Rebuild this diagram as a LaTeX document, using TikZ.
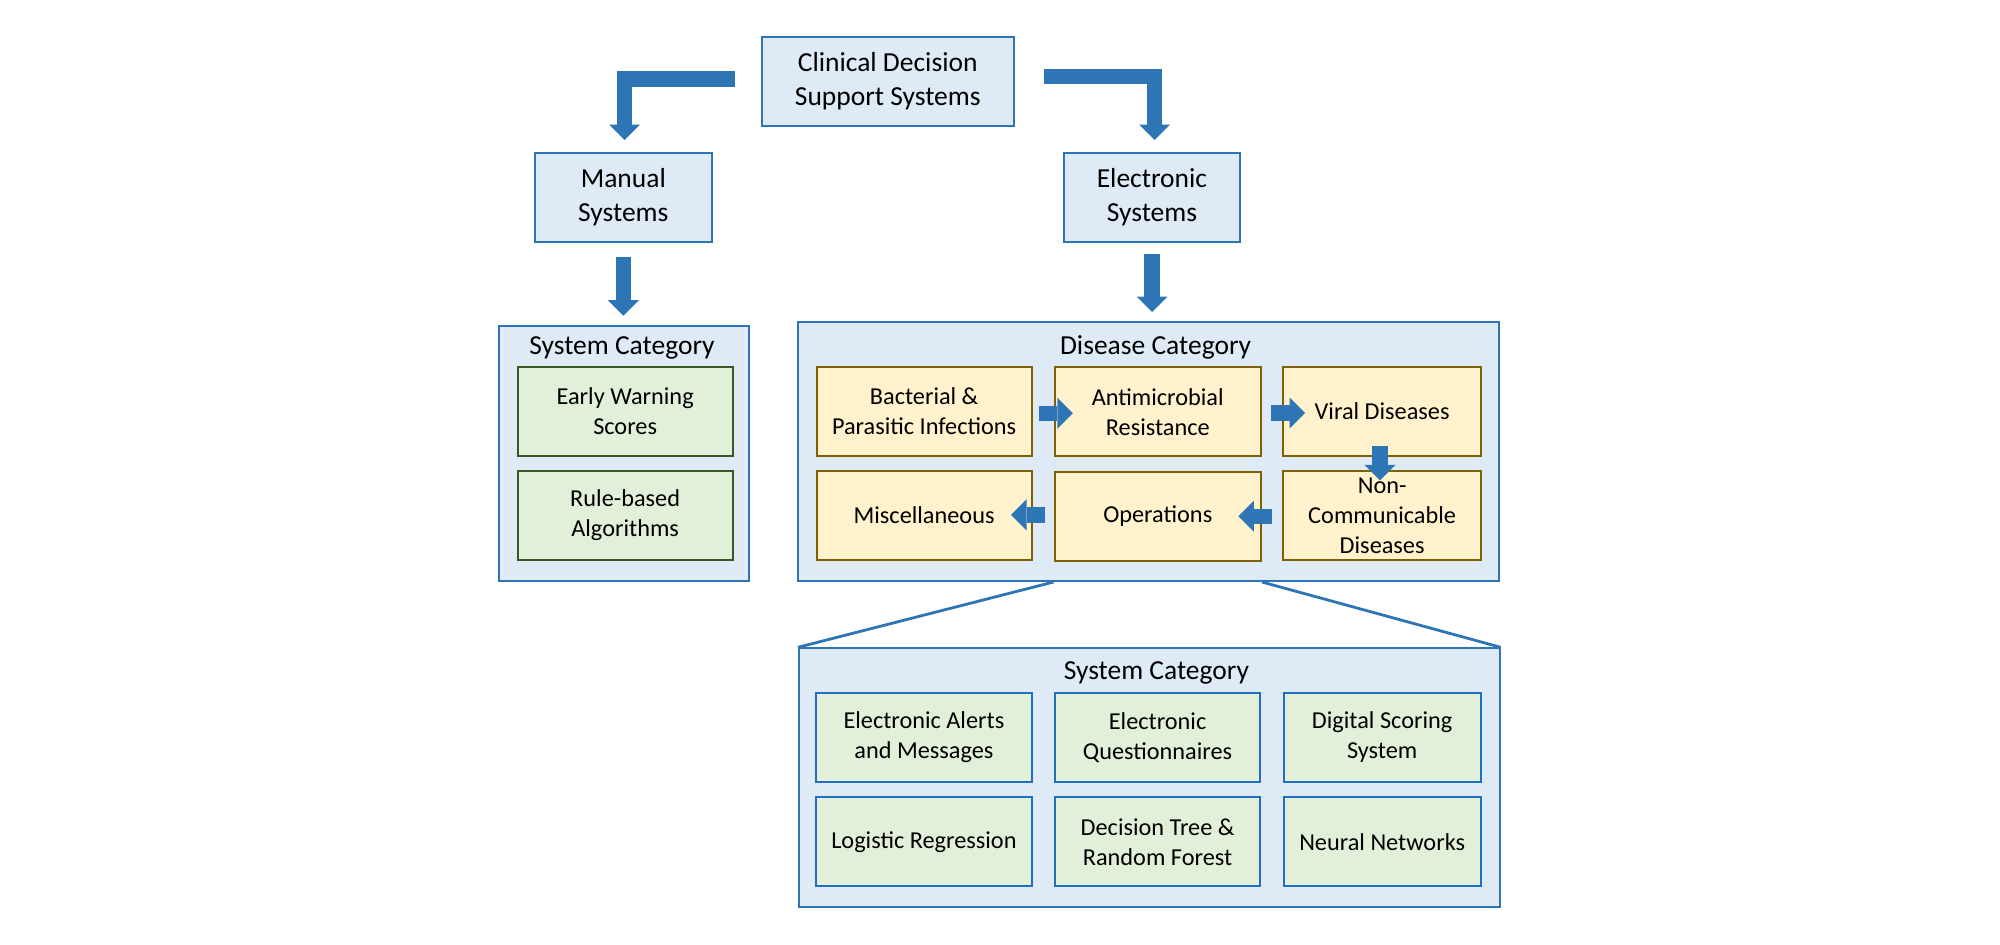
\documentclass[tikz,border=0pt]{standalone}
\usepackage{fontspec}
\setmainfont{Carlito}
\usetikzlibrary{arrows.meta,calc}
\definecolor{bluefill}{HTML}{DEEBF7}
\definecolor{blueline}{HTML}{2E75B6}
\definecolor{arrowc}{HTML}{2E75B6}
\definecolor{greenfill}{HTML}{E2F0D9}
\definecolor{greenline}{HTML}{385723}
\definecolor{yelfill}{HTML}{FFF2CC}
\definecolor{yelline}{HTML}{7F6000}
\definecolor{blueline2}{HTML}{1F70C1}
\begin{document}
\begin{tikzpicture}[x=0.5pt,y=-0.5pt,
  bigbox/.style={draw=blueline, fill=bluefill, line width=1pt, inner sep=0pt, align=center,
    font=\fontsize{13.75}{17.2}\selectfont},
  panel/.style={draw=blueline, fill=bluefill, line width=1pt, inner sep=0pt},
  paneltitle/.style={font=\fontsize{13.75}{16.5}\selectfont, inner sep=0pt},
  gbox/.style={draw=greenline, fill=greenfill, line width=1pt, inner sep=0pt, align=center,
    font=\fontsize{12.15}{15}\selectfont, minimum height=44.5pt},
  ybox/.style={gbox, draw=yelline, fill=yelfill},
  bbox/.style={gbox, draw=blueline2},
  barrow/.style={draw=arrowc, line width=7.75pt, line join=miter,
    -{Triangle[length=7.75pt,width=15.5pt,line width=0pt]}},
  zoomline/.style={draw=blueline, line width=1.4pt},
]
\fill[white] (0,0) rectangle (2000,944);
\useasboundingbox (0,0) rectangle (2000,944);

% top level
\node[bigbox, minimum width=126.25pt, minimum height=44.5pt] (cdss) at (887.75,81.2) {Clinical Decision\\Support Systems};
\node[bigbox, minimum width=88.3pt, minimum height=44.65pt] (manual) at (623.3,197.35) {Manual\\Systems};
\node[bigbox, minimum width=88.3pt, minimum height=44.65pt] (elec) at (1151.95,197.35) {Electronic\\Systems};

% left panel
\node[panel, minimum width=124.8pt, minimum height=127.65pt] (sysl) at (624.2,453.35) {};
\node[paneltitle] (sysltitle) at (622,347.5) {System Category};
\node[gbox, minimum width=107.35pt] (early) at (625.15,411.2) {Early Warning\\Scores};
\node[gbox, minimum width=107.35pt] (rule) at (625.15,515.5) {Rule-based\\Algorithms};

% disease panel
\node[panel, minimum width=350.45pt, minimum height=129.5pt] (dis) at (1148.85,451.5) {};
\node[paneltitle] (distitle) at (1155.6,347.5) {Disease Category};
\node[ybox, minimum width=107.4pt] (bact) at (924.1,411.2) {Bacterial \&\\Parasitic Infections};
\node[ybox, minimum width=103.25pt] (anti) at (1157.75,411.85) {Antimicrobial\\Resistance};
\node[ybox, minimum width=98.85pt] (viral) at (1382.15,411.2) {Viral Diseases};
\node[ybox, minimum width=107.4pt] (misc) at (924.1,515.5) {Miscellaneous};
\node[ybox, minimum width=103.25pt] (oper) at (1157.75,516.2) {Operations};
\node[ybox, minimum width=98.85pt] (noncomm) at (1382.15,515.5) {Non-\\Communicable\\Diseases};

% bottom panel
\node[panel, minimum width=350.4pt, minimum height=129.2pt] (sysb) at (1149.3,777.5) {};
\node[paneltitle] (sysbtitle) at (1156.4,672.5) {System Category};
\node[bbox, minimum width=107.6pt] (alerts) at (923.9,737.35) {Electronic Alerts\\and Messages};
\node[bbox, minimum width=102.85pt] (quest) at (1157.55,737.35) {Electronic\\Questionnaires};
\node[bbox, minimum width=98.65pt] (digital) at (1382.15,737.35) {Digital Scoring\\System};
\node[bbox, minimum width=107.6pt] (logit) at (923.9,841.85) {Logistic Regression};
\node[bbox, minimum width=102.85pt] (dtree) at (1157.55,841.85) {Decision Tree \&\\Random Forest};
\node[bbox, minimum width=98.65pt] (neural) at (1382.15,841.85) {Neural Networks};

% block arrows
\draw[barrow] ($(cdss.west)+(-25.5,-2.2)$) -| ($(manual.north)+(1.4,-11.7)$);
\draw[barrow] ($(cdss.east)+(29,-4.7)$) -| ($(elec.north)+(2.55,-11.7)$);
\draw[barrow] ($(manual.south)+(0,14)$) -- ++(0,58.7);
\draw[barrow] ($(elec.south)+(0.25,11.3)$) -- ++(0,57.7);
\draw[barrow] ($(bact.east)+(6.1,2.1)$) -- ++(34.2,0);
\draw[barrow] ($(anti.east)+(9,1.15)$) -- ++(34,0);
\draw[barrow] ($(viral.south)+(-2.15,-10.7)$) -- ++(0,34.3);
\draw[barrow] ($(noncomm.west)+(-10,0.8)$) -- ++(-34,0);
\draw[barrow] ($(oper.west)+(-8.5,-1.4)$) -- ++(-34,0);

% zoom lines
\draw[zoomline] (dis.south -| anti.west) -- (sysb.north west);
\draw[zoomline] (dis.south -| anti.east) -- (sysb.north east);
\end{tikzpicture}
\end{document}
